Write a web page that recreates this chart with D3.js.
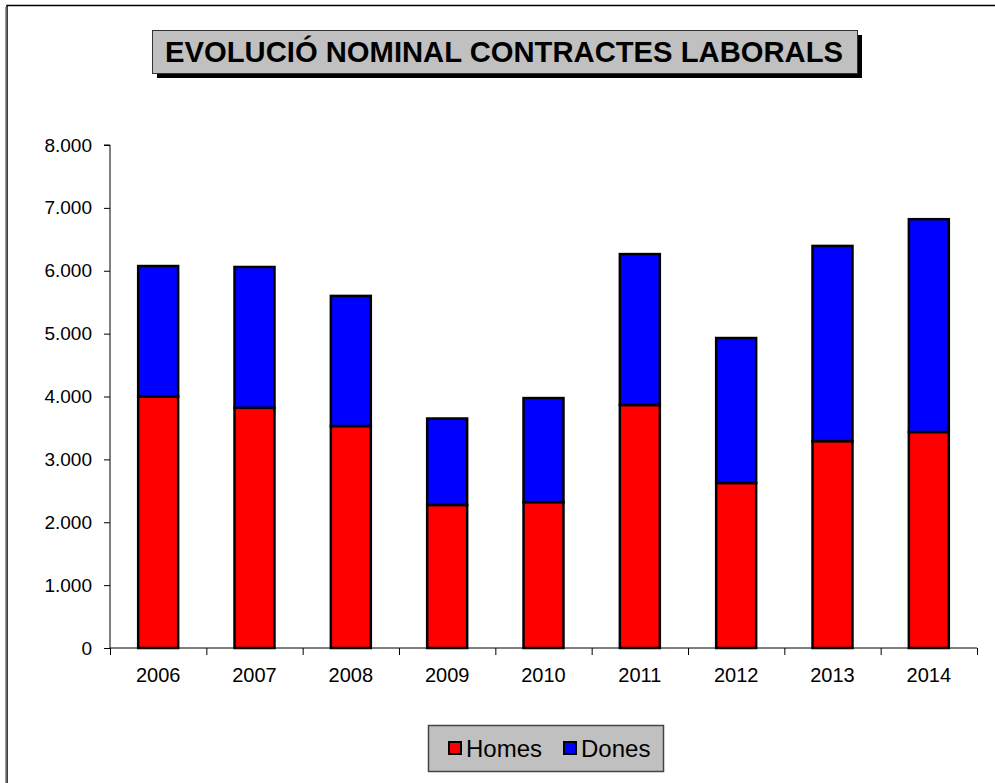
<!DOCTYPE html>
<html>
<head>
<meta charset="utf-8">
<script src="https://cdn.jsdelivr.net/npm/d3@7"></script>
<style>
  html, body { margin: 0; padding: 0; background: #fff; }
  svg { display: block; font-family: "Liberation Sans", Arial, sans-serif; }
</style>
</head>
<body>
<div id="chart"></div>
<script>
// data
const years = ["2006", "2007", "2008", "2009", "2010", "2011", "2012", "2013", "2014"];
const homes = [4000, 3820, 3530, 2275, 2320, 3865, 2625, 3290, 3435];
const dones = [2075, 2240, 2070, 1375, 1655, 2400, 2305, 3105, 3385];
const yTicks = [0, 1000, 2000, 3000, 4000, 5000, 6000, 7000, 8000];
const seriesNames = ["Homes", "Dones"];
const seriesColors = ["#ff0000", "#0000ff"];
const title = "EVOLUCIÓ NOMINAL CONTRACTES LABORALS";

const width = 995, height = 783;
const plot = {left: 110, right: 977, top: 145, bottom: 648};

const svg = d3.select("#chart").append("svg")
  .attr("width", width)
  .attr("height", height);

// outer chart border (only top and left visible)
svg.append("path")
  .attr("d", `M7,${height} V5.5 H${width}`)
  .attr("fill", "none")
  .attr("stroke", "#000")
  .attr("stroke-width", 1.5);
svg.append("path")
  .attr("d", `M6,${height} V7`)
  .attr("fill", "none")
  .attr("stroke", "#777")
  .attr("stroke-width", 1.5);

// title box with shadow
const tb = {x: 152, y: 30, w: 705, h: 43};
svg.append("rect")
  .attr("x", tb.x + 5).attr("y", tb.y + 5)
  .attr("width", tb.w).attr("height", tb.h)
  .attr("fill", "#000");
svg.append("rect")
  .attr("x", tb.x + 0.5).attr("y", tb.y + 0.5)
  .attr("width", tb.w).attr("height", tb.h)
  .attr("fill", "#c0c0c0")
  .attr("stroke", "#333");
svg.append("text")
  .attr("x", tb.x + 13)
  .attr("y", tb.y + 32)
  .attr("textLength", 678)
  .attr("lengthAdjust", "spacingAndGlyphs")
  .style("font-weight", "bold")
  .style("font-size", "30px")
  .text(title);

// scales
const x = d3.scaleBand()
  .domain(years)
  .range([plot.left, plot.right])
  .paddingInner(0.585)
  .paddingOuter(0.2925);

const y = d3.scaleLinear()
  .domain([0, 8000])
  .range([plot.bottom, plot.top]);

const fmt = d => d3.format(",")(d).replace(/,/g, ".");

// y axis
const yAxis = svg.append("g")
  .attr("transform", `translate(${plot.left},0)`)
  .call(d3.axisLeft(y).tickValues(yTicks).tickSize(6).tickPadding(12).tickFormat(fmt));
yAxis.select(".domain").attr("stroke", "#000").attr("d", `M-6,${plot.top}H0V${plot.bottom}`);
yAxis.selectAll(".tick text")
  .style("font-size", "19px")
  .style("font-family", "Liberation Sans, Arial, sans-serif")
  .attr("fill", "#000");

// x axis with ticks between categories
const xb = svg.append("g")
  .attr("transform", `translate(0,${plot.bottom})`);
xb.append("line")
  .attr("x1", plot.left).attr("x2", plot.right)
  .attr("stroke", "#000");
const step = x.step();
xb.selectAll("line.sep")
  .data(d3.range(years.length + 1))
  .enter().append("line")
    .attr("class", "sep")
    .attr("x1", i => x(years[0]) - x.paddingOuter() * step + i * step + 0.5)
    .attr("x2", i => x(years[0]) - x.paddingOuter() * step + i * step + 0.5)
    .attr("y1", 0).attr("y2", 7)
    .attr("stroke", "#000");
xb.selectAll("text")
  .data(years)
  .enter().append("text")
    .attr("x", d => x(d) + x.bandwidth() / 2)
    .attr("y", 34)
    .attr("text-anchor", "middle")
    .style("font-size", "20px")
    .text(d => d);

// stacked bars
const rows = years.map((yr, i) => ({year: yr, Homes: homes[i], Dones: dones[i]}));
const stack = d3.stack().keys(seriesNames)(rows);

svg.append("g")
  .selectAll("g")
  .data(stack)
  .enter().append("g")
    .attr("fill", (d, i) => seriesColors[i])
  .selectAll("rect")
  .data(d => d)
  .enter().append("rect")
    .attr("x", d => x(d.data.year))
    .attr("y", d => y(d[1]))
    .attr("width", x.bandwidth())
    .attr("height", d => y(d[0]) - y(d[1]))
    .attr("stroke", "#000")
    .attr("stroke-width", 2.5);

// legend
const lg = {x: 428, y: 725, w: 235, h: 46};
svg.append("rect")
  .attr("x", lg.x + 0.5).attr("y", lg.y + 0.5)
  .attr("width", lg.w).attr("height", lg.h)
  .attr("fill", "#c0c0c0")
  .attr("stroke", "#444")
  .attr("stroke-width", 1.5);
const items = svg.append("g")
  .selectAll("g")
  .data(seriesNames)
  .enter().append("g")
    .attr("transform", (d, i) => `translate(${lg.x + 21 + i * 115},${lg.y + 17})`);
items.append("rect")
  .attr("width", 12).attr("height", 12)
  .attr("fill", (d, i) => seriesColors[i])
  .attr("stroke", "#000")
  .attr("stroke-width", 2);
items.append("text")
  .attr("x", 17)
  .attr("y", 15)
  .style("font-size", "24px")
  .text(d => d);
</script>
</body>
</html>
